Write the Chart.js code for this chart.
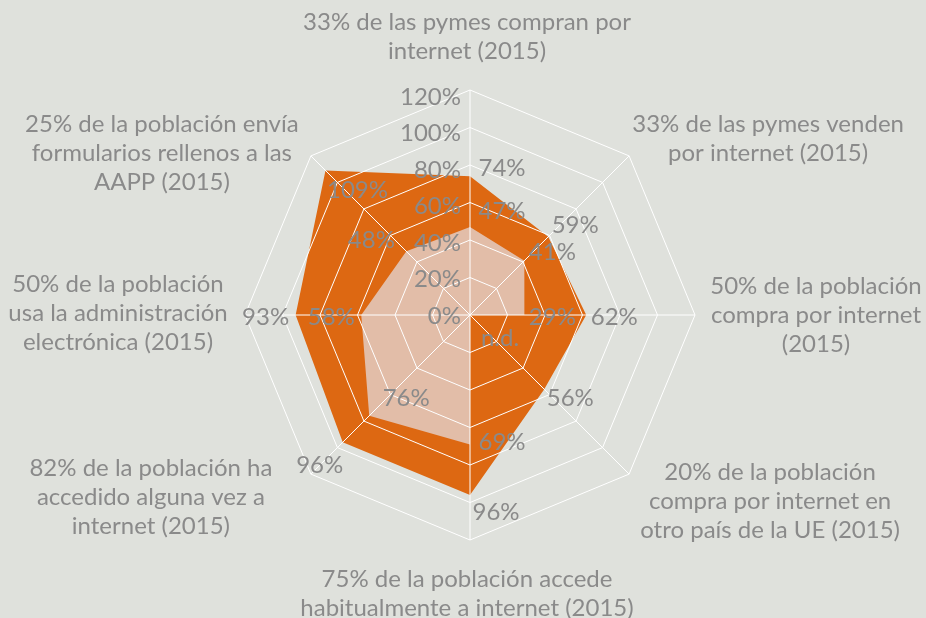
<!DOCTYPE html>
<html lang="es">
<head>
<meta charset="utf-8">
<title>Radar</title>
<script src="https://cdn.jsdelivr.net/npm/chart.js@4"></script>
<style>
    html, body { margin: 0; padding: 0; background: #dfe1dc; }
    #wrap { width: 926px; height: 618px; position: relative; }
</style>
</head>
<body>
<div id="wrap"><canvas id="radarChart"></canvas></div>
<script>
// Categories (one entry per axis, split into lines)
const categories = [
    ['33% de las pymes compran por', 'internet (2015)'],
    ['33% de las pymes venden', 'por internet (2015)'],
    ['50% de la población', 'compra por internet', '(2015)'],
    ['20% de la población', 'compra por internet en', 'otro país de la UE (2015)'],
    ['75% de la población accede', 'habitualmente a internet (2015)'],
    ['82% de la población ha', 'accedido alguna vez a', 'internet (2015)'],
    ['50% de la población', 'usa la administración', 'electrónica (2015)'],
    ['25% de la población envía', 'formularios rellenos a las', 'AAPP (2015)']
];
const outerValues = [74, 59, 62, 56, 96, 96, 93, 109];
const innerValues = [47, 41, 29, null, 69, 76, 58, 48]; // null = n.d.
const tickValues = [0, 20, 40, 60, 80, 100, 120];

// Label placement (pixels, relative to the point the scale gives)
const outerLabelOffsets = [[32, -8], [27, -12], [28, 2], [26, 9], [26, 17], [-23, 23], [-30, 2], [32, 20]];
const innerLabelOffsets = [[32, -16], [28, -8], [28, 2], [30, 23], [32, -2], [37, -17], [-30, 2], [-35, -11]];
const categoryOffsets = [[-3, -53], [139, -17], [121, 0], [141, 27], [-3, 54], [-160, 23], [-127, -2], [-149, -3]];

const textColor = '#8a8a8a';
const fontFamily = 'Lato, "Open Sans", sans-serif';
const fontSize = 24;
const lineHeight = 29;

const textPlugin = {
    id: 'radarText',
    afterDraw(chart) {
        const ctx = chart.ctx;
        const scale = chart.scales.r;
        ctx.save();
        ctx.fillStyle = textColor;
        ctx.font = fontSize + 'px ' + fontFamily;
        ctx.textBaseline = 'middle';

        // tick labels sit left of the vertical axis
        ctx.textAlign = 'right';
        tickValues.forEach(v => {
            const d = scale.getDistanceFromCenterForValue(v);
            ctx.fillText(v + '%', scale.xCenter - 9, scale.yCenter - d + 1 + 6 * v / 120);
        });

        ctx.textAlign = 'center';
        chart.data.labels.forEach((lines, i) => {
            const p = scale.getPointPosition(i, scale.drawingArea);
            const [dx, dy] = categoryOffsets[i];
            const top = p.y + dy - (lines.length - 1) * lineHeight / 2;
            lines.forEach((line, j) => ctx.fillText(line, p.x + dx, top + j * lineHeight));
        });

        const drawValues = (values, offsets) => {
            values.forEach((v, i) => {
                const p = scale.getPointPositionForValue(i, v === null ? 0 : v);
                const text = v === null ? 'n.d.' : v + '%';
                ctx.fillText(text, p.x + offsets[i][0], p.y + offsets[i][1]);
            });
        };
        drawValues(outerValues, outerLabelOffsets);
        drawValues(innerValues, innerLabelOffsets);
        ctx.restore();
    }
};

document.addEventListener('DOMContentLoaded', () => {
    const ctx = document.getElementById('radarChart').getContext('2d');
    new Chart(ctx, {
        type: 'radar',
        data: {
            labels: categories,
            datasets: [
                {
                    label: 'Serie 2',
                    data: innerValues.map(v => v === null ? 0 : v),
                    backgroundColor: '#e2bda8',
                    borderWidth: 0,
                    fill: true
                },
                {
                    label: 'Serie 1',
                    data: outerValues,
                    backgroundColor: '#dd6812',
                    borderWidth: 0,
                    fill: true
                }
            ]
        },
        options: {
            responsive: true,
            maintainAspectRatio: false,
            animation: false,
            layout: { padding: { top: 90, bottom: 78, left: 245, right: 231 } },
            elements: { point: { radius: 0, hoverRadius: 0 }, line: { tension: 0 } },
            plugins: {
                legend: { display: false },
                tooltip: { enabled: false }
            },
            scales: {
                r: {
                    min: 0,
                    max: 120,
                    ticks: { stepSize: 20, display: false },
                    grid: { color: '#ffffff', lineWidth: 1, z: 1 },
                    angleLines: { color: '#ffffff', lineWidth: 1 },
                    pointLabels: { display: false }
                }
            }
        },
        plugins: [textPlugin]
    });
});
</script>
</body>
</html>
